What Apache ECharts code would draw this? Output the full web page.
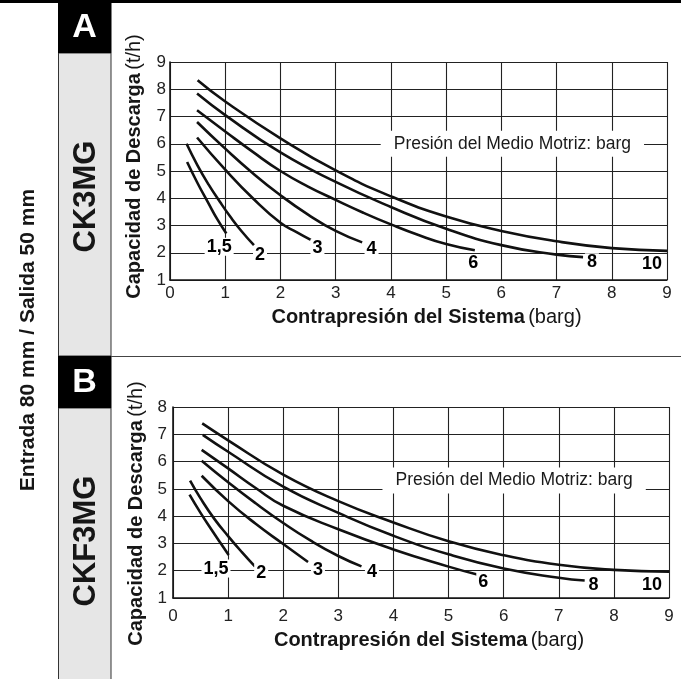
<!DOCTYPE html>
<html><head><meta charset="utf-8">
<script src="https://cdn.jsdelivr.net/npm/echarts@6/dist/echarts.min.js"></script>
<style>html,body{margin:0;padding:0;background:#fff}#c{width:681px;height:679px}</style>
</head><body><div id="c"></div>
<script>
// ---- Data ----
const xTickMin = 0, xTickMax = 9;
const yMinA = 1, yMaxA = 9;
const yMinB = 1, yMaxB = 8;
const pressureLabels = ['1,5', '2', '3', '4', '6', '8', '10'];

// Chart A: CK3MG  [backpressure (barg), capacity (t/h)]
const a15 = [[0.31,5.33],[0.5,4.55],[0.7,3.8],[0.85,3.25],[1.02,2.71]];
const a2  = [[0.30,6.0],[0.5,5.2],[0.7,4.5],[0.9,3.88],[1.1,3.3],[1.3,2.78],[1.52,2.28]];
const a3  = [[0.49,6.23],[1.0,5.05],[1.5,4.0],[2.0,3.1],[2.3,2.75],[2.55,2.47]];
const a4  = [[0.49,6.8],[1.0,5.82],[1.5,4.92],[2.0,4.11],[2.5,3.4],[3.0,2.8],[3.48,2.38]];
const a6  = [[0.49,7.23],[1.0,6.45],[1.5,5.7],[2.0,5.0],[2.5,4.43],[3.0,3.94],[3.5,3.47],[4.0,3.04],[4.5,2.65],[5.0,2.32],[5.52,2.09]];
const a8  = [[0.49,7.84],[1.0,7.05],[2.0,5.68],[3.0,4.6],[4.0,3.68],[5.0,2.88],[6.0,2.28],[7.0,1.93],[7.48,1.84]];
const a10 = [[0.5,8.33],[1.0,7.55],[2.0,6.2],[3.0,5.02],[4.0,4.07],[5.0,3.33],[6.0,2.8],[7.0,2.42],[8.0,2.17],[9.0,2.07]];

// Chart B: CKF3MG
const b15 = [[0.30,4.79],[0.5,4.12],[0.7,3.5],[0.85,3.05],[1.01,2.58]];
const b2  = [[0.31,5.3],[0.5,4.65],[0.75,3.9],[1.0,3.27],[1.25,2.68],[1.49,2.15]];
const b3  = [[0.52,5.48],[1.0,4.55],[1.5,3.72],[2.0,2.98],[2.45,2.32]];
const b4  = [[0.52,6.03],[1.0,5.24],[1.5,4.47],[2.0,3.75],[2.5,3.1],[3.0,2.54],[3.42,2.16]];
const b6  = [[0.52,6.43],[1.0,5.75],[1.5,5.03],[2.0,4.38],[3.0,3.52],[4.0,2.78],[5.0,2.15],[5.52,1.86]];
const b8  = [[0.54,6.98],[1.0,6.36],[2.0,5.08],[3.0,4.12],[4.0,3.28],[5.0,2.6],[6.0,2.08],[7.0,1.74],[7.47,1.64]];
const b10 = [[0.53,7.4],[1.0,6.78],[2.0,5.52],[3.0,4.55],[4.0,3.77],[5.0,3.08],[6.0,2.57],[7.0,2.22],[8.0,2.03],[9.0,1.96]];

// Curve label anchors (data units)
const labelAnchorsA = [[0.89,2.22],[1.63,1.91],[2.67,2.16],[3.65,2.15],[5.49,1.62],[7.64,1.65],[8.73,1.58]];
const labelAnchorsB = [[0.78,2.08],[1.60,1.92],[2.63,2.01],[3.61,1.95],[5.63,1.59],[7.63,1.48],[8.69,1.48]];
const noteText = 'Presión del Medio Motriz: barg';
const noteAnchorA = [6.2, 6.0];
const noteAnchorB = [6.19, 5.31];

const xName = '{b|Contrapresión del Sistema} {r|(barg)}';
const yName = '{b|Capacidad de Descarga} {r|(t/h)}';

// ---- Chart ----
const FONT = '"Liberation Sans", Arial, Helvetica, sans-serif';
const INK = '#161616';
const chart = echarts.init(document.getElementById('c'), null, {renderer: 'canvas'});

function xAx(gridIndex, labelMargin, nameGap) {
  return {
    type: 'value', gridIndex, min: xTickMin, max: xTickMax, interval: 1,
    axisLine: {show: true, lineStyle: {color: INK, width: 1.6}},
    axisTick: {show: false},
    splitLine: {show: true, lineStyle: {color: '#222', width: 1.1}},
    axisLabel: {color: '#222', fontSize: 17, fontFamily: FONT, margin: labelMargin},
    name: xName, nameLocation: 'middle', nameGap: nameGap,
    nameTextStyle: {
      color: INK, fontFamily: FONT, padding: [0, 0, 0, 16],
      rich: {b: {fontWeight: 'bold', fontSize: 20, fontFamily: FONT, color: INK},
             r: {fontSize: 20, fontFamily: FONT, color: INK}}
    }
  };
}
function yAx(gridIndex, min, max, labelMargin, namePad) {
  return {
    type: 'value', gridIndex, min, max, interval: 1,
    axisLine: {show: true, lineStyle: {color: INK, width: 1.6}},
    axisTick: {show: false},
    splitLine: {show: true, lineStyle: {color: '#222', width: 1.1}},
    axisLabel: {color: '#222', fontSize: 17, fontFamily: FONT, margin: labelMargin},
    name: yName, nameLocation: 'middle', nameRotate: 90, nameGap: 26,
    nameTextStyle: {
      color: INK, fontFamily: FONT, padding: namePad,
      rich: {b: {fontWeight: 'bold', fontSize: 20, fontFamily: FONT, color: INK},
             r: {fontSize: 20, fontFamily: FONT, color: INK}}
    }
  };
}

const curvesA = [a15, a2, a3, a4, a6, a8, a10];
const curvesB = [b15, b2, b3, b4, b6, b8, b10];

function lineSeries(data, name, gi) {
  return {
    type: 'line', name, xAxisIndex: gi, yAxisIndex: gi, data,
    smooth: 0.5, showSymbol: false, symbol: 'none',
    lineStyle: {color: '#111', width: 2.6}, z: 2, silent: true
  };
}
function labelSeries(anchors, gi) {
  return {
    type: 'scatter', xAxisIndex: gi, yAxisIndex: gi, symbolSize: 1,
    itemStyle: {opacity: 0}, z: 4, silent: true,
    data: anchors.map((p, i) => ({value: p, name: pressureLabels[i]})),
    label: {
      show: true, position: 'inside', formatter: p => p.name, opacity: 1,
      fontFamily: FONT, fontWeight: 'bold', fontSize: 18, color: '#000',
      backgroundColor: '#fff', padding: [0, 2]
    }
  };
}
function noteSeries(anchor, gi) {
  return {
    type: 'scatter', xAxisIndex: gi, yAxisIndex: gi, symbolSize: 1,
    itemStyle: {opacity: 0}, z: 4, silent: true,
    data: [{value: anchor, name: noteText}],
    label: {
      show: true, position: 'inside', formatter: p => p.name, opacity: 1,
      fontFamily: FONT, fontSize: 17.5, color: '#1a1a1a',
      backgroundColor: '#fff', padding: [4, 13]
    }
  };
}

const series = [];
curvesA.forEach((c, i) => series.push(lineSeries(c, 'A ' + pressureLabels[i], 0)));
curvesB.forEach((c, i) => series.push(lineSeries(c, 'B ' + pressureLabels[i], 1)));
series.push(labelSeries(labelAnchorsA, 0));
series.push(labelSeries(labelAnchorsB, 1));
series.push(noteSeries(noteAnchorA, 0));
series.push(noteSeries(noteAnchorB, 1));

function rotText(text, x, y, size) {
  return {
    type: 'text', x, y, rotation: Math.PI / 2, silent: true,
    style: {text, x: 0, y: 0, align: 'center', verticalAlign: 'middle',
            textAlign: 'center', textVerticalAlign: 'middle',
            font: 'bold ' + size + 'px ' + FONT, fill: INK}
  };
}

chart.setOption({
  animation: false,
  backgroundColor: '#fff',
  textStyle: {fontFamily: FONT},
  grid: [
    {left: 170, top: 62, width: 497, height: 218, containLabel: false},
    {left: 173, top: 407, width: 496, height: 191, containLabel: false}
  ],
  xAxis: [xAx(0, 5, 27), xAx(1, 10, 32)],
  yAxis: [yAx(0, yMinA, yMaxA, 4, [0, 0, 0, 9]), yAx(1, yMinB, yMaxB, 6, [0, 22, 0, 0])],
  series,
  graphic: [
    {type: 'rect', shape: {x: 0, y: 0, width: 681, height: 3}, style: {fill: '#000'}, silent: true},
    {type: 'rect', shape: {x: 58.5, y: 53, width: 52.5, height: 303}, style: {fill: '#e6e6e6', stroke: '#333', lineWidth: 1}, silent: true},
    {type: 'rect', shape: {x: 58.5, y: 408, width: 52.5, height: 280}, style: {fill: '#e6e6e6', stroke: '#333', lineWidth: 1}, silent: true},
    {type: 'rect', shape: {x: 58, y: 3, width: 53.5, height: 50}, style: {fill: '#000'}, silent: true},
    {type: 'rect', shape: {x: 58, y: 356, width: 53.5, height: 52}, style: {fill: '#000'}, silent: true},
    {type: 'line', shape: {x1: 111, y1: 356.5, x2: 681, y2: 356.5}, style: {stroke: '#444', lineWidth: 1}, silent: true},
    {type: 'text', x: 84.5, y: 28, silent: true,
     style: {text: 'A', x: 0, y: 0, align: 'center', verticalAlign: 'middle', textAlign: 'center', textVerticalAlign: 'middle', font: 'bold 34px ' + FONT, fill: '#fff'}},
    {type: 'text', x: 84.5, y: 383, silent: true,
     style: {text: 'B', x: 0, y: 0, align: 'center', verticalAlign: 'middle', textAlign: 'center', textVerticalAlign: 'middle', font: 'bold 34px ' + FONT, fill: '#fff'}},
    rotText('CK3MG', 86.5, 196.5, 31),
    rotText('CKF3MG', 86.5, 541, 31),
    rotText('Entrada 80 mm / Salida 50 mm', 28, 340, 21)
  ]
});
</script>
</body></html>
